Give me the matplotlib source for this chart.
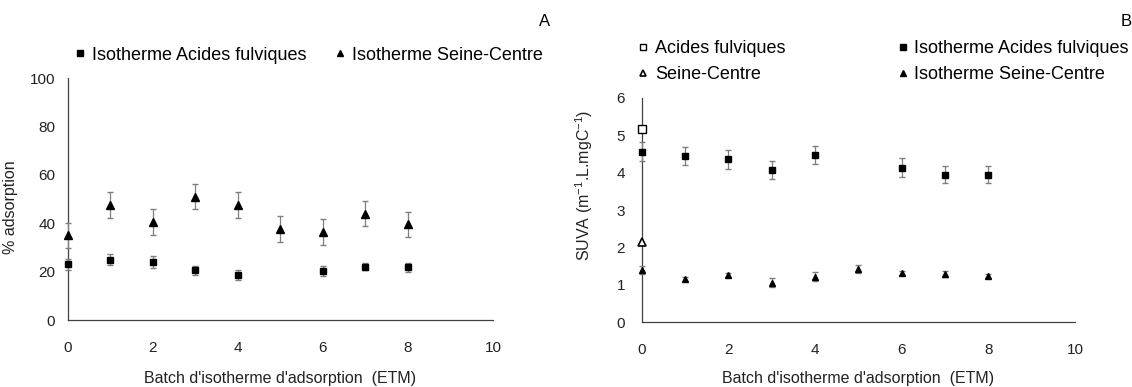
import matplotlib
matplotlib.use("Agg")
import matplotlib.pyplot as plt
from matplotlib.lines import Line2D

plt.rcParams['font.family'] = ['Liberation Sans', 'DejaVu Sans']
plt.rcParams['mathtext.default'] = 'regular'

# panel A : % adsorption
batchA_sq = [0, 1, 2, 3, 4, 6, 7, 8]
adsAF = [23, 25, 24, 20.5, 18.7, 20.3, 22, 21.7]
adsAF_err = [2.2, 2.2, 2.4, 2, 2, 2.2, 1.5, 2]
batchA_tri = [0, 1, 2, 3, 4, 5, 6, 7, 8]
adsSC = [35, 47.5, 40.5, 51, 47.5, 37.5, 36.5, 44, 39.5]
adsSC_err = [5.2, 5.2, 5.2, 5.3, 5.2, 5.3, 5.3, 5.2, 5.3]

# panel B : SUVA
batchB_sq = [0, 1, 2, 3, 4, 6, 7, 8]
suvaAF = [4.56, 4.44, 4.35, 4.07, 4.47, 4.13, 3.94, 3.94]
suvaAF_err = [0.25, 0.24, 0.25, 0.25, 0.25, 0.25, 0.23, 0.23]
batchB_tri = [0, 1, 2, 3, 4, 5, 6, 7, 8]
suvaSC = [1.40, 1.15, 1.26, 1.06, 1.22, 1.42, 1.31, 1.28, 1.24]
suvaSC_err = [0.1, 0.05, 0.05, 0.12, 0.12, 0.1, 0.05, 0.08, 0.05]
rawAF = 5.17
rawSC = 2.14

xlab = "Batch d'isotherme d'adsorption  (ETM)"
errcol = '#7f7f7f'
txtcol = '#222222'

fig = plt.figure(figsize=(11.32, 3.87), dpi=100)
axA = fig.add_axes([0.0598, 0.1731, 0.3757, 0.6253])
axB = fig.add_axes([0.5669, 0.1671, 0.3828, 0.5805])


def style(ax, ypad, xlab_y):
    for s in ['top', 'right']:
        ax.spines[s].set_visible(False)
    for s in ['left', 'bottom']:
        ax.spines[s].set_color('#404040')
        ax.spines[s].set_linewidth(0.9)
    ax.tick_params(length=0, labelsize=11, colors=txtcol)
    ax.tick_params(axis='x', pad=15)
    ax.tick_params(axis='y', pad=ypad)
    ax.set_xlim(0, 10)
    ax.set_xticks(range(0, 11, 2))
    ax.set_xlabel(xlab, fontsize=11.5, color=txtcol)
    ax.xaxis.set_label_coords(0.5, xlab_y)
    ax.xaxis.label.set_va('center')


# A
axA.errorbar(batchA_tri, adsSC, yerr=adsSC_err, fmt='^', color='black', ms=5.5,
             ecolor=errcol, elinewidth=0.9, capsize=2.5, clip_on=False, zorder=3)
axA.errorbar(batchA_sq, adsAF, yerr=adsAF_err, fmt='s', color='black', ms=5,
             ecolor=errcol, elinewidth=0.9, capsize=2.5, clip_on=False, zorder=3)
axA.set_ylim(0, 100)
axA.set_yticks(range(0, 101, 20))
axA.set_ylabel('% adsorption', fontsize=11.5, color=txtcol)
axA.yaxis.set_label_coords(-0.117, 0.467)
style(axA, 9, -0.24)
hA = [Line2D([], [], ls='', marker='s', color='black', ms=5),
      Line2D([], [], ls='', marker='^', color='black', ms=5)]
axA.legend(hA, ['Isotherme Acides fulviques', 'Isotherme Seine-Centre'], ncol=2,
           frameon=False, loc='center left', bbox_to_anchor=(0.016, 1.095),
           handlelength=0.6, handletextpad=0.35, columnspacing=1.6,
           borderpad=0, borderaxespad=0, fontsize=13)

# B
axB.errorbar(batchB_sq, suvaAF, yerr=suvaAF_err, fmt='s', color='black', ms=5,
             ecolor=errcol, elinewidth=0.9, capsize=2.5, clip_on=False, zorder=3)
axB.errorbar(batchB_tri, suvaSC, yerr=suvaSC_err, fmt='^', color='black', ms=5,
             ecolor=errcol, elinewidth=0.9, capsize=2.5, clip_on=False, zorder=3)
axB.plot([0], [rawAF], ls='', marker='s', mfc='white', mec='black', ms=5.5,
         mew=1, clip_on=False, zorder=4)
axB.plot([0], [rawSC], ls='', marker='^', mfc='white', mec='black', ms=6,
         mew=1.2, clip_on=False, zorder=4)
axB.set_ylim(0, 6)
axB.set_yticks(range(0, 7))
axB.set_ylabel('SUVA (m$^{-1}$.L.mgC$^{-1}$)', fontsize=11.5, color=txtcol)
axB.yaxis.set_label_coords(-0.108, 0.611)
style(axB, 12, -0.248)
hB = [Line2D([], [], ls='', marker='s', mfc='white', mec='black', ms=5),
      Line2D([], [], ls='', marker='^', mfc='white', mec='black', ms=5, mew=1.2),
      Line2D([], [], ls='', marker='s', color='black', ms=5),
      Line2D([], [], ls='', marker='^', color='black', ms=5)]
axB.legend(hB, ['Acides fulviques', 'Seine-Centre', 'Isotherme Acides fulviques',
                'Isotherme Seine-Centre'], ncol=2,
           frameon=False, loc='center left', bbox_to_anchor=(-0.0095, 1.159),
           handlelength=0.6, handletextpad=0.35, columnspacing=6.2,
           labelspacing=0.5, borderpad=0, borderaxespad=0, fontsize=13)

fig.text(545 / 1132, 1 - 21 / 387, 'A', fontsize=12, ha='center', va='center')
fig.text(1126 / 1132, 1 - 21 / 387, 'B', fontsize=12, ha='center', va='center')

fig.savefig('out.png', dpi=100)
